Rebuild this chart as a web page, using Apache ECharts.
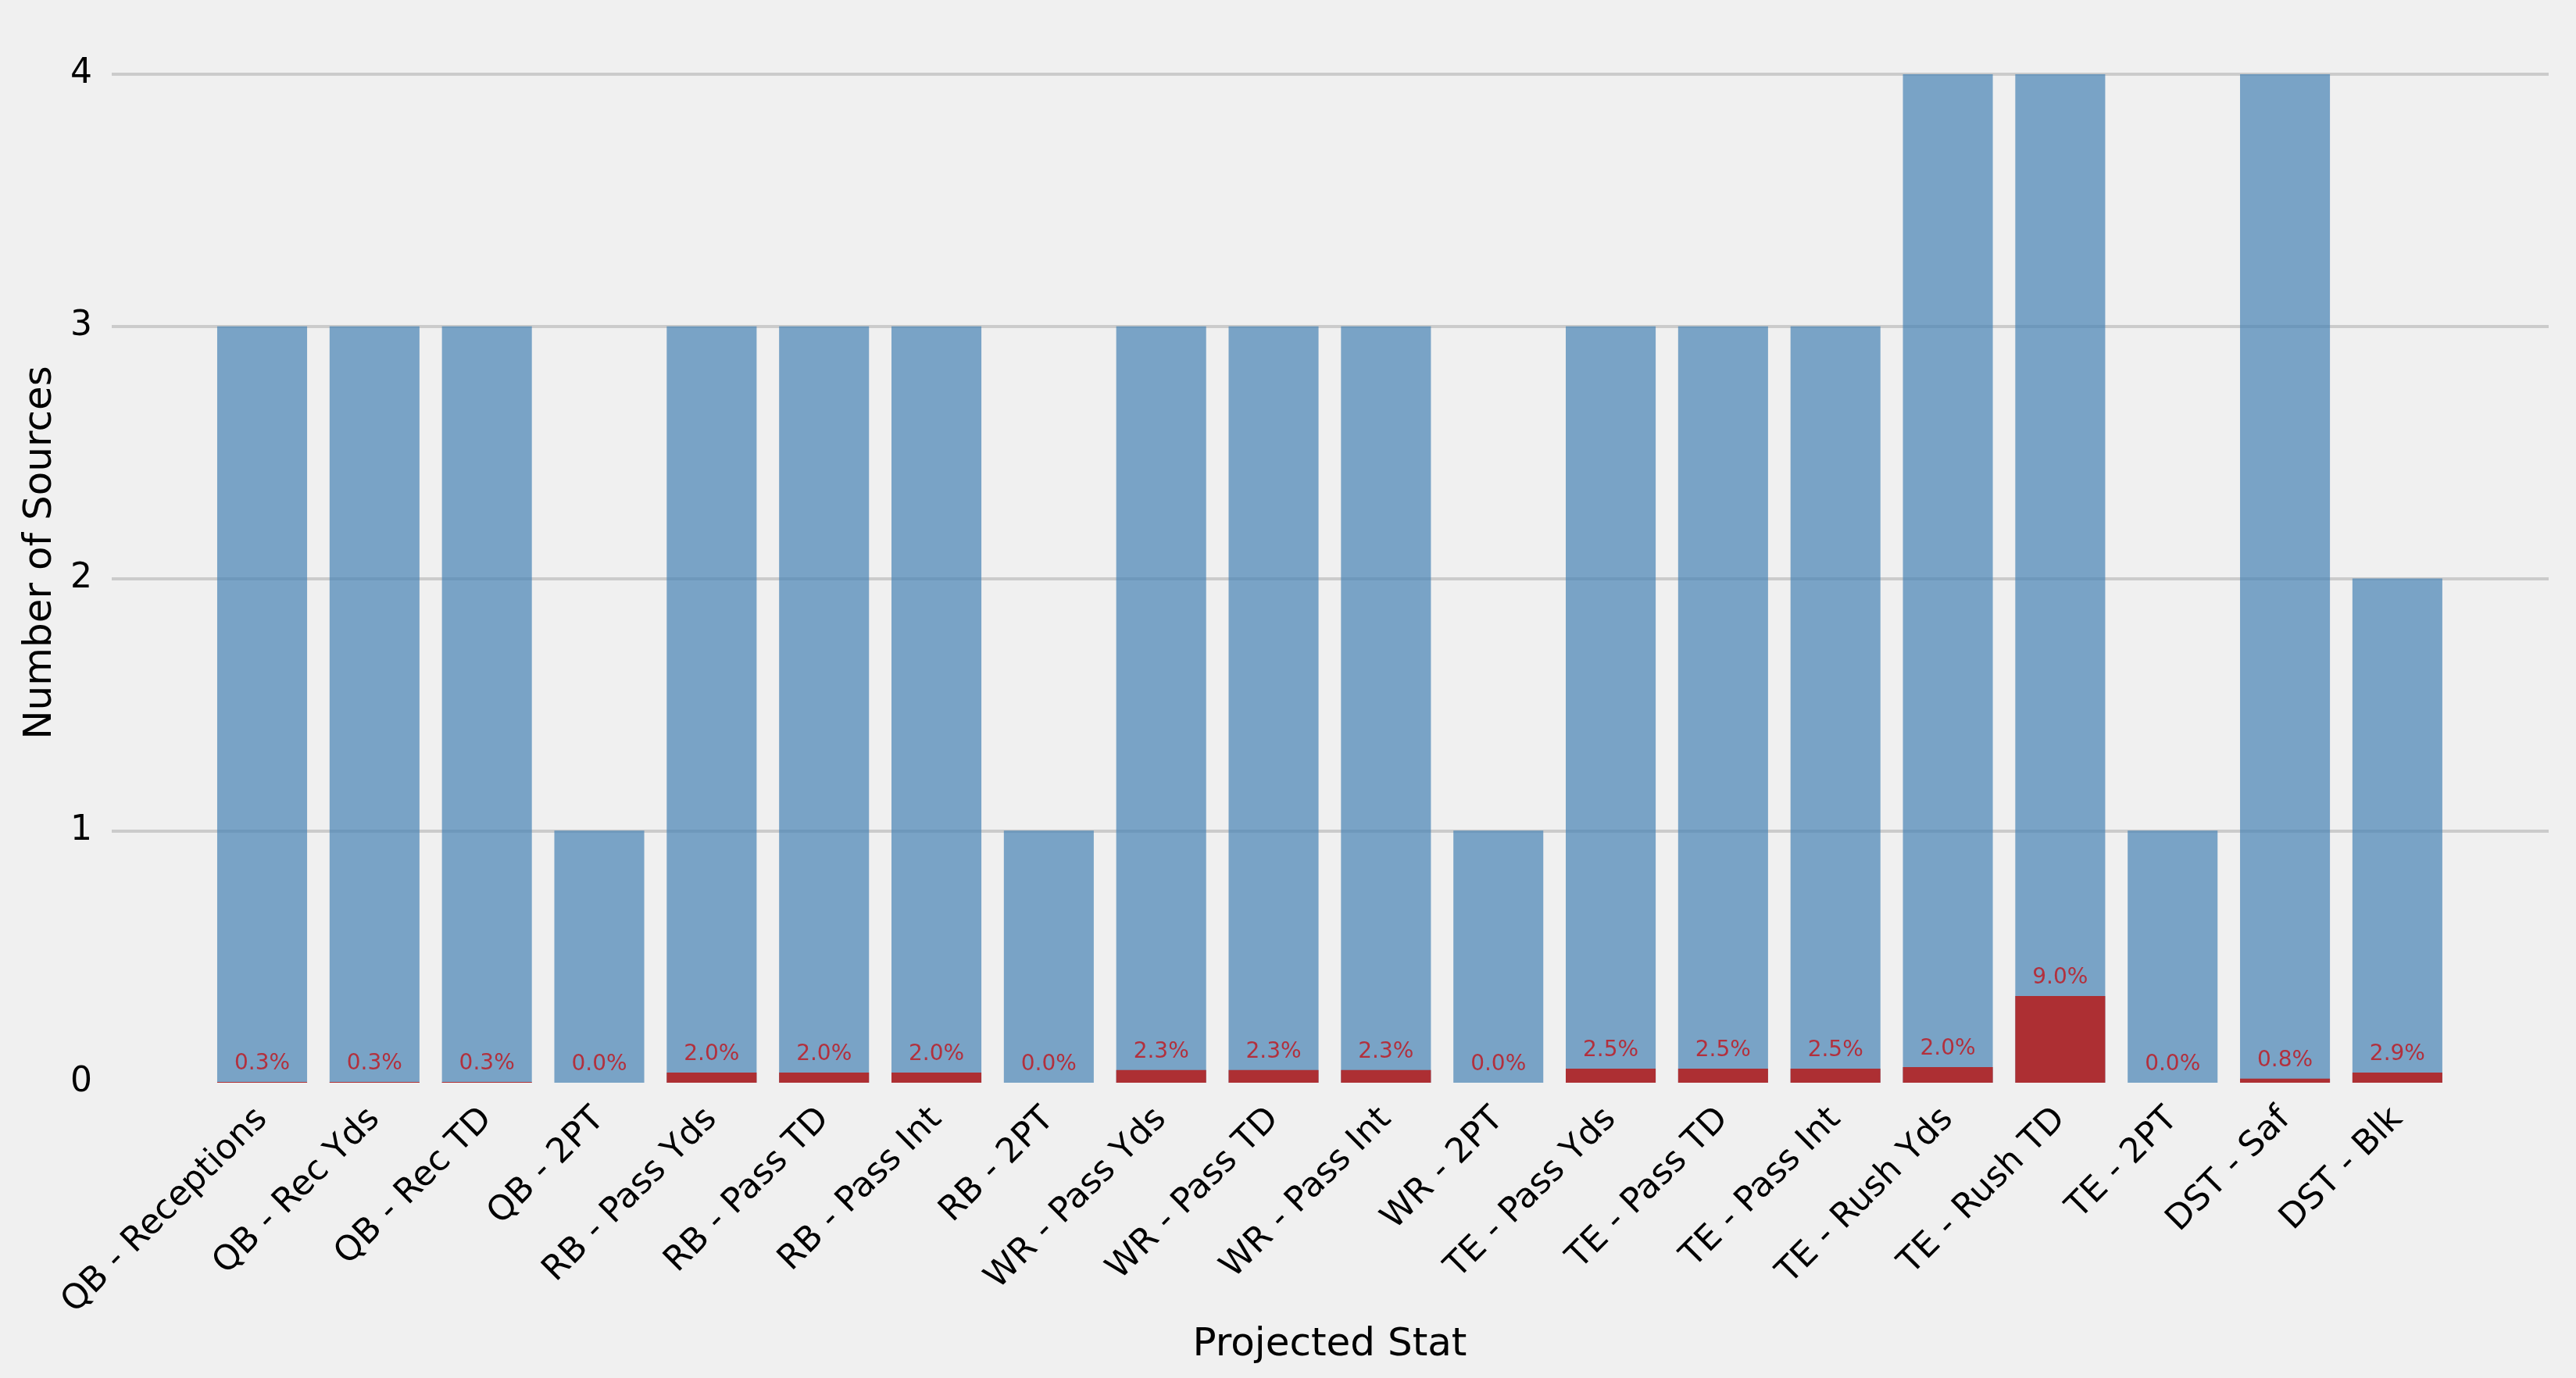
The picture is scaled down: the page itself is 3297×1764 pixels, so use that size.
<!DOCTYPE html>
<html>
<head>
<meta charset="utf-8">
<script src="https://cdn.jsdelivr.net/npm/echarts@6/dist/echarts.min.js"></script>
<style>
  html, body { margin: 0; padding: 0; background: #f0f0f0; }
  #chart { width: 3297px; height: 1764px; }
</style>
</head>
<body>
<div id="chart"></div>
<script>
// stat categories along the x axis
var categories = [
  "QB - Receptions", "QB - Rec Yds", "QB - Rec TD", "QB - 2PT",
  "RB - Pass Yds", "RB - Pass TD", "RB - Pass Int", "RB - 2PT",
  "WR - Pass Yds", "WR - Pass TD", "WR - Pass Int", "WR - 2PT",
  "TE - Pass Yds", "TE - Pass TD", "TE - Pass Int", "TE - Rush Yds",
  "TE - Rush TD", "TE - 2PT", "DST - Saf", "DST - Blk"
];

// number of sources per stat (blue bars)
var sources = [3, 3, 3, 1, 3, 3, 3, 1, 3, 3, 3, 1, 3, 3, 3, 4, 4, 1, 4, 2];

// red overlay bar heights (y axis units)
var redHeights = [0.003, 0.003, 0.003, 0, 0.04, 0.04, 0.04, 0, 0.05, 0.05, 0.05, 0,
                  0.056, 0.056, 0.056, 0.062, 0.344, 0, 0.016, 0.04];

// percentage text shown above each red bar
var pctLabels = ["0.3%", "0.3%", "0.3%", "0.0%", "2.0%", "2.0%", "2.0%", "0.0%",
                 "2.3%", "2.3%", "2.3%", "0.0%", "2.5%", "2.5%", "2.5%", "2.0%",
                 "9.0%", "0.0%", "0.8%", "2.9%"];

var yTicks = [0, 1, 2, 3, 4];

var font = "DejaVu Sans";
var chart = echarts.init(document.getElementById("chart"));

chart.setOption({
  backgroundColor: "#f0f0f0",
  animation: false,
  textStyle: { fontFamily: font },
  grid: [
    // wide grid: gridlines + y labels
    { left: 143, right: 35, top: 95, bottom: 378 },
    // bar grid
    { left: 263.6, right: 156.7, top: 95, bottom: 378 }
  ],
  xAxis: [
    { gridIndex: 0, type: "value", min: 0, max: 1, show: false },
    {
      gridIndex: 1,
      type: "category",
      data: categories,
      axisLine: { show: false },
      axisTick: { show: false },
      axisLabel: {
        rotate: 45,
        interval: 0,
        margin: 40,
        color: "#000",
        fontSize: 44,
        fontFamily: font
      },
      name: "Projected Stat",
      nameLocation: "middle",
      nameGap: 292,
      nameTextStyle: { color: "#000", fontSize: 50, fontFamily: font }
    }
  ],
  yAxis: [
    {
      gridIndex: 0,
      type: "value",
      min: yTicks[0],
      max: yTicks[yTicks.length - 1],
      interval: 1,
      axisLine: { show: false },
      axisTick: { show: false },
      axisLabel: { color: "#000", fontSize: 44, margin: 25, fontFamily: font },
      splitLine: { show: true, showMinLine: false, lineStyle: { color: "#cbcbcb", width: 4 } },
      name: "Number of Sources",
      nameLocation: "middle",
      nameRotate: 90,
      nameGap: 66,
      nameTextStyle: { color: "#000", fontSize: 50, fontFamily: font, padding: [0, 0, 0, 66] }
    },
    {
      gridIndex: 1,
      type: "value",
      min: yTicks[0],
      max: yTicks[yTicks.length - 1],
      show: false,
      splitLine: { show: false }
    }
  ],
  series: [
    {
      type: "bar",
      name: "Sources",
      xAxisIndex: 1,
      yAxisIndex: 1,
      data: sources,
      barWidth: "80%",
      barGap: "-100%",
      itemStyle: { color: "#4682B4", opacity: 0.7 }
    },
    {
      type: "bar",
      name: "Share",
      xAxisIndex: 1,
      yAxisIndex: 1,
      data: redHeights,
      barWidth: "80%",
      barGap: "-100%",
      itemStyle: { color: "#B22222", opacity: 0.9 },
      label: {
        show: true,
        position: "top",
        distance: 9,
        color: "#B8232D",
        fontSize: 28,
        fontFamily: font,
        formatter: function (p) { return pctLabels[p.dataIndex]; }
      }
    }
  ]
});
</script>
</body>
</html>
